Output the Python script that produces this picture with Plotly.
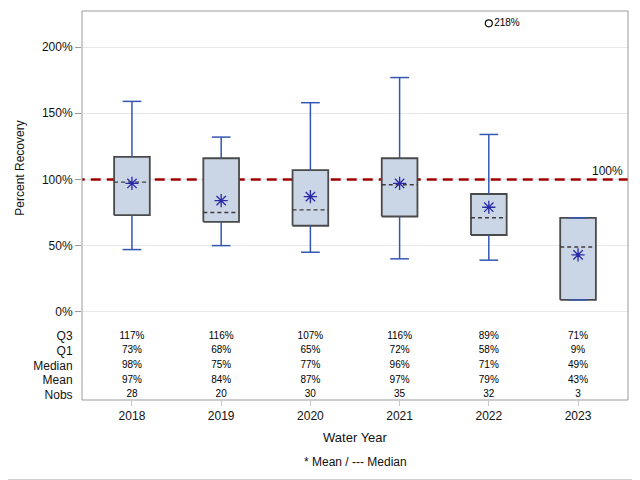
import plotly.graph_objects as go

# ---- data ----
years = ["2018", "2019", "2020", "2021", "2022", "2023"]
q3 = [117, 116, 107, 116, 89, 71]
q1 = [73, 68, 65, 72, 58, 9]
median = [98, 75, 77, 96, 71, 49]
mean = [97, 84, 87, 97, 79, 43]
nobs = [28, 20, 30, 35, 32, 3]
whisk_hi = [159, 132, 158, 177, 134, 71]
whisk_lo = [47, 50, 45, 40, 39, 9]
outlier_year = ["2022"]
outlier_val = [218]
ref_value = 100
row_labels = ["Q3", "Q1", "Median", "Mean", "Nobs"]
ytick_vals = [0, 50, 100, 150, 200]

# ---- style ----
FONT = "Liberation Sans, Arial, sans-serif"
BOX_HALF = 0.20
CAP_HALF = 0.105
FILL = "#cad5e6"
EDGE = "#4a4a4a"
WHISK = "#3357b0"
PW, PH = 546, 389  # plot area size in px

xs = list(range(len(years)))
xpos = {y: i for i, y in enumerate(years)}

fig = go.Figure()

# reference line (drawn first, clipped to the plot area)
fig.add_trace(go.Scatter(x=[-1, len(years)], y=[ref_value, ref_value], mode="lines",
                         line=dict(color="#9e0000", width=2.5, dash="10px,6px"),
                         hoverinfo="skip"))

# boxes
bx, by = [], []
for i in xs:
    bx += [i - BOX_HALF, i + BOX_HALF, i + BOX_HALF, i - BOX_HALF, i - BOX_HALF, None]
    by += [q1[i], q1[i], q3[i], q3[i], q1[i], None]
fig.add_trace(go.Scatter(x=bx, y=by, mode="lines", fill="toself", fillcolor=FILL,
                         line=dict(color=EDGE, width=1.8), hoverinfo="skip"))

# medians
mx, my = [], []
for i in xs:
    mx += [i - BOX_HALF, i + BOX_HALF, None]
    my += [median[i], median[i], None]
fig.add_trace(go.Scatter(x=mx, y=my, mode="lines",
                         line=dict(color="#3c3c3c", width=1.4, dash="4px,3px"), hoverinfo="skip"))

# whiskers
wx, wy = [], []
for i in xs:
    if whisk_hi[i] > q3[i]:
        wx += [i, i, None]
        wy += [q3[i], whisk_hi[i], None]
    if whisk_lo[i] < q1[i]:
        wx += [i, i, None]
        wy += [q1[i], whisk_lo[i], None]
    wx += [i - CAP_HALF, i + CAP_HALF, None, i - CAP_HALF, i + CAP_HALF, None]
    wy += [whisk_hi[i], whisk_hi[i], None, whisk_lo[i], whisk_lo[i], None]
fig.add_trace(go.Scatter(x=wx, y=wy, mode="lines", line=dict(color=WHISK, width=1.5),
                         hoverinfo="skip"))

# means
fig.add_trace(go.Scatter(x=xs, y=mean, mode="markers",
                         marker=dict(symbol="asterisk-open", size=11, color="#2a2aa6",
                                     line=dict(color="#2a2aa6", width=1.3)),
                         hoverinfo="skip"))

# outlier
fig.add_trace(go.Scatter(x=[xpos[y] for y in outlier_year], y=outlier_val, mode="markers+text",
                         marker=dict(symbol="circle-open", size=7, color="#111",
                                     line=dict(color="#111", width=1.2)),
                         text=[f"{v}%" for v in outlier_val], textposition="middle right",
                         textfont=dict(family=FONT, size=10, color="#000"), hoverinfo="skip"))

# table
rows = [q3, q1, median, mean, nobs]
for r, vals in zip(row_labels, rows):
    txt = [f"{v}" if r == "Nobs" else f"{v}%" for v in vals]
    fig.add_trace(go.Scatter(x=xs, y=[r] * len(xs), mode="text", text=txt,
                             textfont=dict(family=FONT, size=10, color="#000"),
                             yaxis="y2", hoverinfo="skip"))

fig.add_annotation(xref="paper", x=0.995, yref="y", y=ref_value, text=f"{ref_value}%",
                   showarrow=False, xanchor="right", yanchor="bottom", yshift=-1,
                   font=dict(family=FONT, size=12, color="#111"))

# frame and outer border (right/bottom edges of page)
fig.add_shape(type="rect", xref="paper", yref="paper", x0=0, x1=1, y0=0, y1=1,
              line=dict(color="#9a9a9a", width=1))
fig.add_shape(type="line", xref="paper", yref="paper",
              x0=557 / PW, x1=557 / PW, y0=-79.5 / PH, y1=1.02,
              line=dict(color="#cfcfcf", width=1))
fig.add_shape(type="line", xref="paper", yref="paper",
              x0=-0.2, x1=557 / PW, y0=-79.5 / PH, y1=-79.5 / PH,
              line=dict(color="#cfcfcf", width=1))

fig.add_annotation(xref="paper", yref="paper", x=0.5, y=-62 / PH, text="* Mean / --- Median",
                   showarrow=False, xanchor="center", yanchor="middle",
                   font=dict(family=FONT, size=12, color="#111"))

fig.update_layout(
    width=632, height=472,
    margin=dict(l=74, r=12, t=3, b=80),
    paper_bgcolor="white", plot_bgcolor="white",
    showlegend=False,
    font=dict(family=FONT, size=12, color="#111"),
    xaxis=dict(range=[-0.56, 5.56], tickvals=xs, ticktext=years, anchor="y2",
               showgrid=False, zeroline=False, showline=False,
               ticks="outside", ticklen=5, tickcolor="#c8c8c8",
               tickfont=dict(family=FONT, size=12, color="#111"),
               title=dict(text="Water Year", font=dict(family=FONT, size=13, color="#111"), standoff=10)),
    yaxis=dict(domain=[75 / PH, 1], range=[-10, 227.3], tickvals=ytick_vals,
               ticktext=[f"{v}%" for v in ytick_vals],
               showgrid=True, gridcolor="#e8e8e8", gridwidth=1, zeroline=False, showline=False,
               ticks="outside", ticklen=6, tickcolor="#9a9a9a",
               tickfont=dict(family=FONT, size=12, color="#111"),
               title=dict(text="Percent Recovery", font=dict(family=FONT, size=12, color="#111"),
                          standoff=14)),
    yaxis2=dict(domain=[0, 75 / PH], type="category", categoryarray=row_labels,
                categoryorder="array", range=[4.34, -0.75],
                showgrid=False, zeroline=False, showline=False,
                ticks="outside", ticklen=6, tickcolor="rgba(0,0,0,0)",
                tickfont=dict(family=FONT, size=12, color="#111")),
)

fig.write_html("out.html")
